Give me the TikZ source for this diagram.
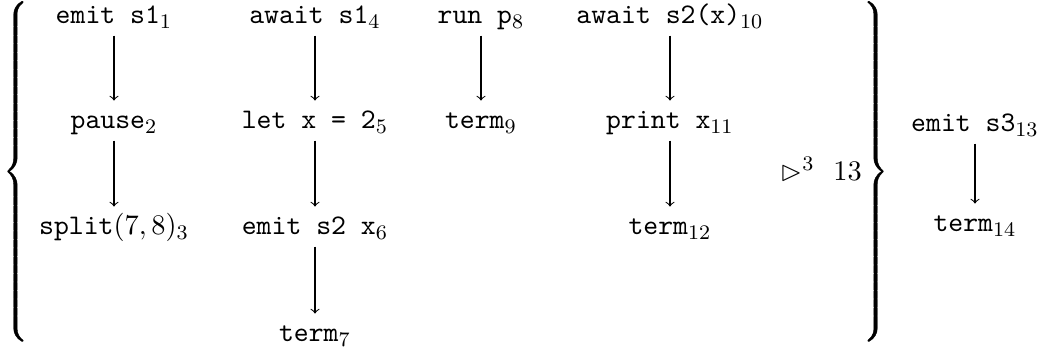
\documentclass[tikz,border=0pt]{standalone}
\usepackage{amssymb}
% outlined glyphs for a heavier brace stroke
\newcommand{\heavyglyph}[1]{\special{pdf:literal 2 Tr 0.15 w}#1\special{pdf:literal 0 Tr}}
\begin{document}
\begin{tikzpicture}[x=0.3861pt,y=-0.3861pt,
  every node/.style={font=\fontsize{10.95}{13.6}\selectfont},
  stmt/.style={inner sep=3.3pt,text height=7.5pt,text depth=1pt,anchor=base},
  flow/.style={->,line width=0.4pt}]
\useasboundingbox (0,0) rectangle (1045,351);
% first thread
\node[stmt] (a1) at (114,24)  {\texttt{emit s1}$_1$};
\node[stmt] (a2) at (114,129) {\texttt{pause}$_2$};
\node[stmt] (a3) at (114,235) {\texttt{split}$(7,8)_3$};
% second thread
\node[stmt] (b1) at (315,24)  {\texttt{await s1}$_4$};
\node[stmt] (b2) at (315,129) {\texttt{let x = 2}$_5$};
\node[stmt] (b3) at (315,235) {\texttt{emit s2 x}$_6$};
\node[stmt] (b4) at (315,342) {\texttt{term}$_7$};
% third thread
\node[stmt] (c1) at (481,24)  {\texttt{run p}$_8$};
\node[stmt] (c2) at (481,129) {\texttt{term}$_9$};
% fourth thread
\node[stmt] (d1) at (670,24)  {\texttt{await s2(x)}$_{10}$};
\node[stmt] (d2) at (670,129) {\texttt{print x}$_{11}$};
\node[stmt] (d3) at (670,235) {\texttt{term}$_{12}$};
% continuation
\node[stmt] (e1) at (975,132) {\texttt{emit s3}$_{13}$};
\node[stmt] (e2) at (975,232) {\texttt{term}$_{14}$};
% braces and step label
\node[inner sep=0] (lb) at (17,174) {\heavyglyph{$\left\{\vrule height 65pt depth 65pt width 0pt\right.$}};
\node[inner sep=0] (rb) at (874,174) {\heavyglyph{$\left.\vrule height 65pt depth 65pt width 0pt\right\}$}};
\node[anchor=base,inner sep=0] (st) at (821,181) {$\rhd^3\ \ 13$};
% edges
\draw[flow] (a1) -- (a2);
\draw[flow] (a2) -- (a3);
\draw[flow] (b1) -- (b2);
\draw[flow] (b2) -- (b3);
\draw[flow] (b3) -- (b4);
\draw[flow] (c1) -- (c2);
\draw[flow] (d1) -- (d2);
\draw[flow] (d2) -- (d3);
\draw[flow] (e1) -- (e2);
\end{tikzpicture}
\end{document}
